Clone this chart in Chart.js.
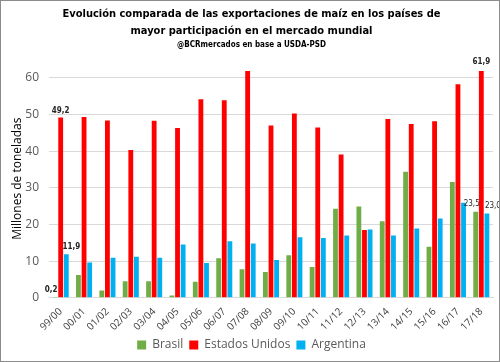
<!DOCTYPE html>
<html>
<head>
<meta charset="utf-8">
<script src="https://cdn.jsdelivr.net/npm/chart.js@4"></script>
<style>
  body { margin: 0; background: #fff; }
  #box { width: 500px; height: 362px; box-sizing: border-box; border: 1px solid #8c8c8c; position: relative; }
</style>
</head>
<body>
<div id="box"><canvas id="myChart" width="498" height="360"></canvas></div>
<script>
var campanas = ['99/00','00/01','01/02','02/03','03/04','04/05','05/06','06/07','07/08','08/09',
                '09/10','10/11','11/12','12/13','13/14','14/15','15/16','16/17','17/18'];
var brasil = [0.2, 6.2, 2.0, 4.5, 4.5, 0.6, 4.4, 10.8, 7.8, 7.0, 11.6, 8.4, 24.3, 24.9, 20.9, 34.4, 13.9, 31.6, 23.5];
var estadosUnidos = [49.2, 49.3, 48.4, 40.3, 48.3, 46.3, 54.2, 53.9, 61.9, 47.0, 50.3, 46.5, 39.1, 18.5, 48.8, 47.4, 48.2, 58.3, 61.9];
var argentina = [11.9, 9.6, 10.9, 11.2, 10.9, 14.5, 9.5, 15.4, 14.8, 10.3, 16.5, 16.3, 17.0, 18.6, 17.0, 18.9, 21.6, 25.9, 23.0];

// etiquetas de valor que aparecen en el original: [serie, indice, dx, dy, negrita]
var etiquetas = [
  [0, 0, -4, -7, true], [1, 0, 0, -7, true], [2, 0, 5, -7, true],
  [0, 18, -4, -8, false], [1, 18, 0, -9, true], [2, 18, 6, -8, false]
];

var valueLabels = {
  id: 'valueLabels',
  afterDatasetsDraw: function(chart) {
    var ctx = chart.ctx;
    ctx.save();
    ctx.fillStyle = '#262626';
    ctx.textAlign = 'center';
    ctx.textBaseline = 'middle';
    etiquetas.forEach(function(e) {
      var bar = chart.getDatasetMeta(e[0]).data[e[1]];
      var v = chart.data.datasets[e[0]].data[e[1]];
      ctx.font = (e[4] ? 'bold ' : '') + '8px "DejaVu Sans Condensed"';
      ctx.fillText(v.toFixed(1).replace('.', ','), bar.x + e[2], bar.y + e[3]);
    });
    ctx.restore();
  }
};

var ctx = document.getElementById('myChart').getContext('2d');
var myChart = new Chart(ctx, {
  type: 'bar',
  data: {
    labels: campanas,
    datasets: [
      { label: 'Brasil', backgroundColor: '#70AD47', data: brasil },
      { label: 'Estados Unidos', backgroundColor: '#FF0000', data: estadosUnidos },
      { label: 'Argentina', backgroundColor: '#00B0F0', data: argentina }
    ]
  },
  options: {
    responsive: false,
    animation: false,
    datasets: { bar: { categoryPercentage: 0.72, barPercentage: 0.86 } },
    layout: { padding: { left: 9, right: 6, top: 0, bottom: 0 } },
    plugins: {
      title: {
        display: true,
        text: ['Evolución comparada de las exportaciones de maíz en los países de',
               'mayor participación en el mercado mundial'],
        font: { family: '"DejaVu Sans Condensed"', size: 11, weight: 'bold', lineHeight: 1.5 },
        color: '#000',
        padding: { top: 5, bottom: 0 }
      },
      subtitle: {
        display: true,
        text: '@BCRmercados en base a USDA-PSD',
        font: { family: '"DejaVu Sans Condensed"', size: 8, weight: 'bold' },
        color: '#000',
        padding: { top: 1, bottom: 10 }
      },
      legend: {
        position: 'bottom',
        labels: { boxWidth: 9, boxHeight: 9, font: { family: '"Open Sans"', size: 12 }, color: '#595959', padding: 6 }
      },
      tooltip: { enabled: false }
    },
    scales: {
      x: {
        grid: { display: false },
        border: { color: '#d9d9d9' },
        afterFit: function(axis) { axis.paddingLeft = 0; axis.paddingRight = 0; },
        ticks: { minRotation: 45, maxRotation: 45, autoSkip: false, font: { family: '"Open Sans"', size: 10 }, color: '#404040', padding: 0 }
      },
      y: {
        min: 0,
        max: 65,
        afterBuildTicks: function(axis) {
          axis.ticks = axis.ticks.filter(function(t) { return t.value % 10 === 0; });
        },
        afterFit: function(axis) { axis.width = 39; },
        ticks: { stepSize: 10, font: { family: '"Open Sans"', size: 12 }, color: '#595959', padding: 10 },
        grid: { color: '#d9d9d9', drawTicks: false },
        border: { display: false },
        title: { display: true, text: 'Millones de toneladas', font: { family: '"Open Sans"', size: 12 }, color: '#000', padding: 0 }
      }
    }
  },
  plugins: [valueLabels]
});
</script>
</body>
</html>
